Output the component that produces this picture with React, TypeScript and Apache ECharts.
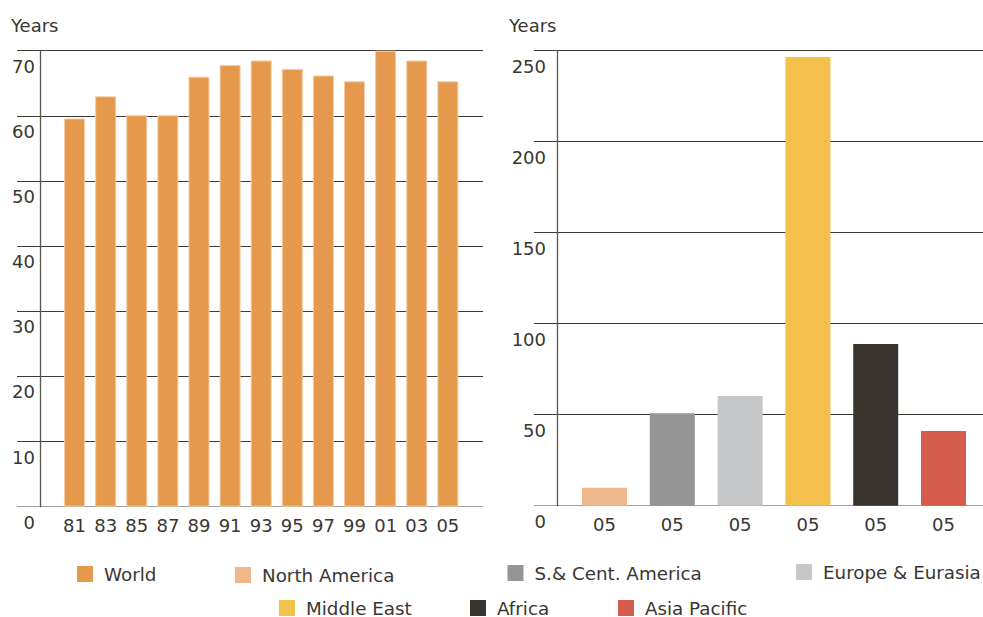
import React, { useEffect, useRef } from "react";
import * as echarts from "echarts";

// World reserves-to-production ratio, by year
const worldYears = ["81", "83", "85", "87", "89", "91", "93", "95", "97", "99", "01", "03", "05"];
const worldValues = [59.6, 63.0, 60.1, 60.1, 66.0, 67.8, 68.5, 67.2, 66.2, 65.3, 70.0, 68.5, 65.3];

// Regional ratios for 2005
const regions = ["North America", "S.& Cent. America", "Europe & Eurasia", "Middle East", "Africa", "Asia Pacific"];
const regionValues = [9.8, 50.8, 60.3, 246.6, 88.9, 41.1];
const regionTickLabels = ["05", "05", "05", "05", "05", "05"];
const regionColors = ["#efb78a", "#959596", "#c6c7c8", "#f2c04b", "#3a342e", "#d65c4e"];

const worldName = "World";
const worldColor = "#e5994c";

const leftTicks = { min: 0, max: 70, interval: 10 };
const rightTicks = { min: 0, max: 250, interval: 50 };

const FONT = "DejaVu Sans";
const TEXT = "#3a3632";
const GRID_DARK = "#3e3a35";
const GRID_BASE = "#a3a19e";

function splitColors(count: number): string[] {
  const arr = [GRID_BASE];
  for (let i = 1; i < count; i++) arr.push(GRID_DARK);
  return arr;
}

function frameYAxis(gridIndex: number, t: { min: number; max: number; interval: number }, margin: number) {
  return {
    type: "value",
    gridIndex,
    min: t.min,
    max: t.max,
    interval: t.interval,
    offset: -23,
    axisLine: { show: true, lineStyle: { color: "#5b5650", width: 1.3 } },
    axisTick: { show: false },
    axisLabel: {
      fontSize: 18,
      fontFamily: FONT,
      color: TEXT,
      margin,
      verticalAlign: "top",
      padding: [6.5, 0, 0, 0],
    },
    splitLine: {
      show: true,
      lineStyle: { color: splitColors((t.max - t.min) / t.interval + 1), width: 1 },
    },
  };
}

function hiddenYAxis(gridIndex: number, t: { min: number; max: number; interval: number }) {
  return { type: "value", gridIndex, min: t.min, max: t.max, interval: t.interval, show: false };
}

export default function App() {
  const ref = useRef<HTMLDivElement>(null);

  useEffect(() => {
    if (!ref.current) return;
    const chart = echarts.init(ref.current, undefined, { renderer: "svg" });

    const regionSeries = regions.map((name, i) => ({
      name,
      type: "bar",
      xAxisIndex: 3,
      yAxisIndex: 3,
      stack: "region",
      barWidth: 45,
      itemStyle: { color: regionColors[i] },
      data: regionValues.map((v, j) => (j === i ? v : null)),
    }));

    const legendPos: { name: string; left: number; top: number }[] = [
      { name: worldName, left: 77, top: 565 },
      { name: regions[0], left: 235, top: 566 },
      { name: regions[1], left: 507.5, top: 564 },
      { name: regions[2], left: 796, top: 563 },
      { name: regions[3], left: 279, top: 599 },
      { name: regions[4], left: 470, top: 599 },
      { name: regions[5], left: 618, top: 599 },
    ];

    chart.setOption({
      animation: false,
      textStyle: { fontFamily: FONT },
      grid: [
        { left: 17, right: 500, top: 50.7, bottom: 110.3 },
        { left: 59, right: 519.6, top: 50.7, bottom: 110.3 },
        { left: 534, right: 0, top: 50.7, bottom: 111.3 },
        { left: 570.6, right: 5.6, top: 50.7, bottom: 111.3 },
      ],
      xAxis: [
        { type: "value", gridIndex: 0, show: false },
        {
          type: "category",
          gridIndex: 1,
          data: worldYears,
          axisLine: { show: false },
          axisTick: { show: false },
          axisLabel: { fontSize: 18, fontFamily: FONT, color: TEXT, margin: 10, interval: 0 },
        },
        { type: "value", gridIndex: 2, show: false },
        {
          type: "category",
          gridIndex: 3,
          data: regions,
          axisLine: { show: false },
          axisTick: { show: false },
          axisLabel: {
            fontSize: 18,
            fontFamily: FONT,
            color: TEXT,
            margin: 10,
            interval: 0,
            formatter: (_v: string, i: number) => regionTickLabels[i],
          },
        },
      ],
      yAxis: [
        frameYAxis(0, leftTicks, 5),
        hiddenYAxis(1, leftTicks),
        frameYAxis(2, rightTicks, 11),
        hiddenYAxis(3, rightTicks),
      ],
      legend: legendPos.map((p) => ({
        data: [p.name],
        left: p.left,
        top: p.top,
        padding: 0,
        icon: "rect",
        itemWidth: 16,
        itemHeight: 16,
        selectedMode: false,
        itemStyle: { borderWidth: 0 },
        textStyle: { fontSize: 18.3, fontFamily: FONT, color: TEXT, padding: [0, 0, 0, 6] },
      })),
      graphic: [
        {
          type: "text",
          left: 11,
          top: 16,
          style: { text: "Years", fontSize: 18, fontFamily: FONT, fill: TEXT },
        },
        {
          type: "text",
          left: 509,
          top: 16,
          style: { text: "Years", fontSize: 18, fontFamily: FONT, fill: TEXT },
        },
      ],
      series: [
        {
          name: worldName,
          type: "bar",
          xAxisIndex: 1,
          yAxisIndex: 1,
          barWidth: 21,
          itemStyle: { color: worldColor, borderColor: "#f4cda4", borderWidth: 1 },
          data: worldValues,
        },
        ...regionSeries,
      ],
    });

    return () => chart.dispose();
  }, []);

  return (
    <div
      ref={ref}
      style={{ position: "fixed", left: 0, top: 0, width: 983, height: 617, background: "#ffffff" }}
    />
  );
}
